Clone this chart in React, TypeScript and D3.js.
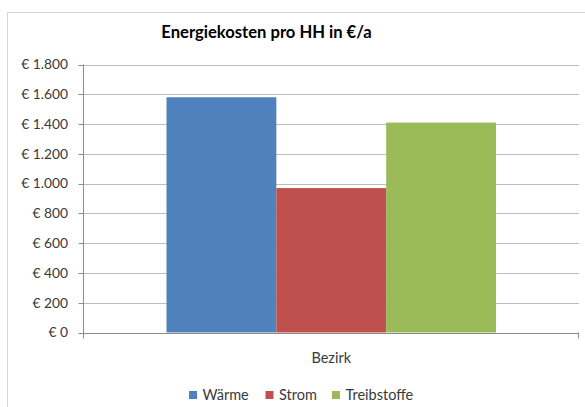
import React from "react";
import * as d3 from "d3";

const categories = ["Bezirk"];
const series = ["Wärme", "Strom", "Treibstoffe"];
const values = [1580, 970, 1410];
const colors = ["#4F81BD", "#C0504D", "#9BBB59"];
const yTicks = [0, 200, 400, 600, 800, 1000, 1200, 1400, 1600, 1800];
const title = "Energiekosten pro HH in €/a";

const W = 585;
const H = 407;
const FONT = "Lato, 'Open Sans', sans-serif";

const fmt = (v: number) => "€ " + d3.format(",")(v).replace(/,/g, ".");

export default function App() {
  const left = 83.5;
  const right = 579;
  const top = 64.5;
  const bottom = 332.5;

  const y = d3.scaleLinear().domain([0, 1800]).range([bottom, top]);
  const x0 = d3
    .scaleBand<string>()
    .domain(categories)
    .range([left, right])
    .paddingInner(0)
    .paddingOuter(0.252);
  const x1 = d3
    .scaleBand<string>()
    .domain(series)
    .range([0, x0.bandwidth()])
    .padding(0);

  const legendItems = [
    { label: series[0], x: 189 },
    { label: series[1], x: 265.5 },
    { label: series[2], x: 332 },
  ];

  return (
    <svg
      width={W}
      height={H}
      style={{ position: "absolute", left: 0, top: 0, background: "#fff" }}
      fontFamily={FONT}
    >
      <rect x={0} y={0} width={W} height={H} fill="#fff" />
      {/* outer chart border */}
      <path d={`M7.5,${H + 2}V12.5H${W + 2}`} fill="none" stroke="#d4d4d4" strokeWidth={1} />

      <text
        x={266.5}
        y={38}
        textAnchor="middle"
        fontSize={16.6}
        fontWeight="bold"
        fill="#000"
      >
        {title}
      </text>

      {/* gridlines */}
      {yTicks.map((t) =>
        t === 0 ? null : (
          <line
            key={"g" + t}
            x1={left}
            x2={right}
            y1={Math.round(y(t)) + 0.5}
            y2={Math.round(y(t)) + 0.5}
            stroke="#bdbdbd"
            strokeWidth={1}
          />
        )
      )}

      {/* bars */}
      {categories.map((c) =>
        series.map((s, i) => (
          <rect
            key={c + s}
            x={(x0(c) ?? 0) + (x1(s) ?? 0)}
            y={y(values[i])}
            width={x1.bandwidth()}
            height={y(0) - y(values[i])}
            fill={colors[i]}
          />
        ))
      )}

      {/* y axis */}
      <line x1={left} x2={left} y1={top} y2={bottom + 6} stroke="#8c8c8c" />
      {yTicks.map((t) => (
        <g key={"t" + t}>
          <line
            x1={left - 5}
            x2={left}
            y1={Math.round(y(t)) + 0.5}
            y2={Math.round(y(t)) + 0.5}
            stroke="#8c8c8c"
          />
          <text
            x={68}
            y={y(t)}
            dy="0.35em"
            textAnchor="end"
            fontSize={13.8}
            fill="#3a3a3a"
          >
            {fmt(t)}
          </text>
        </g>
      ))}

      {/* x axis */}
      <line x1={left} x2={right} y1={Math.round(y(0)) + 0.5} y2={Math.round(y(0)) + 0.5} stroke="#8c8c8c" />
      <line x1={right - 0.5} x2={right - 0.5} y1={bottom} y2={bottom + 6} stroke="#8c8c8c" />
      {categories.map((c) => (
        <text
          key={"c" + c}
          x={(x0(c) ?? 0) + x0.bandwidth() / 2}
          y={362.5}
          textAnchor="middle"
          fontSize={14.5}
          fill="#3a3a3a"
        >
          {c}
        </text>
      ))}

      {/* legend */}
      {legendItems.map((it, i) => (
        <g key={"l" + it.label}>
          <rect x={it.x} y={391} width={8} height={8} fill={colors[i]} />
          <text x={it.x + 13.5} y={400} fontSize={14.5} fill="#3a3a3a">
            {it.label}
          </text>
        </g>
      ))}
    </svg>
  );
}
